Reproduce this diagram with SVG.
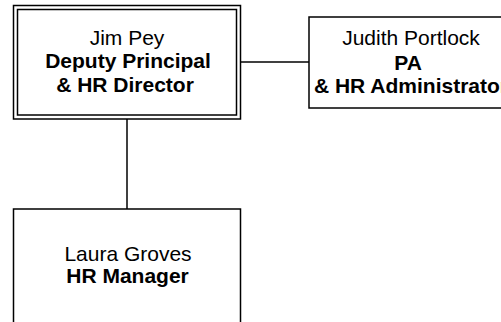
<svg xmlns="http://www.w3.org/2000/svg" width="501" height="322" viewBox="0 0 501 322">
<style>
.box{fill:#fff;stroke:#000;stroke-width:1.5}
.ln{stroke:#000;stroke-width:1.5;fill:none}
text{font-family:"Liberation Sans",Arial,sans-serif;font-size:21px;text-anchor:middle;fill:#000}
.b{font-weight:bold}
</style>
<rect width="501" height="322" fill="#fff"/>
<g id="connectors">
<line class="ln" x1="240" y1="62" x2="309" y2="62"/>
<line class="ln" x1="127" y1="119" x2="127" y2="209"/>
</g>
<g id="jim">
<rect class="box" x="13.5" y="5.5" width="227" height="113.5"/>
<rect class="box" x="17.5" y="9.5" width="219" height="105.5"/>
<text x="127" y="45">Jim Pey</text>
<text class="b" x="128" y="68">Deputy Principal</text>
<text class="b" x="125" y="92">&amp; HR Director</text>
</g>
<g id="judith">
<rect class="box" x="309" y="17" width="220" height="91"/>
<text x="411" y="45">Judith Portlock</text>
<text class="b" x="408" y="70">PA</text>
<text class="b" x="411" y="93">&amp; HR Administrator</text>
</g>
<g id="laura">
<rect class="box" x="13.5" y="209" width="227" height="130"/>
<text x="128" y="261">Laura Groves</text>
<text class="b" x="127.5" y="283">HR Manager</text>
</g>
</svg>
